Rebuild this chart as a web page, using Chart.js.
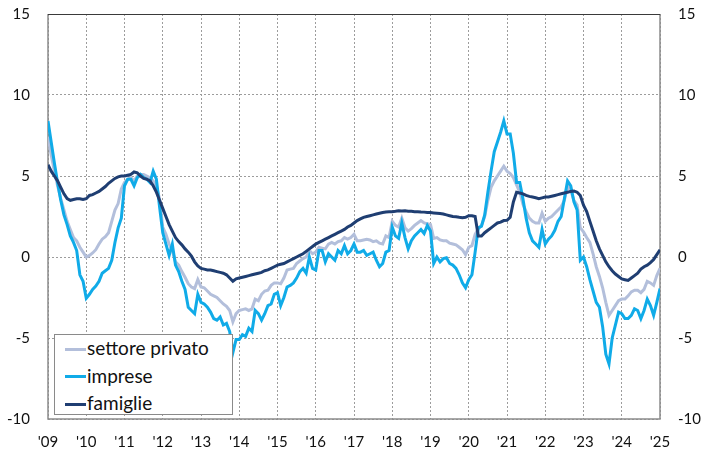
<!DOCTYPE html>
<html>
<head>
<meta charset="utf-8">
<script src="https://cdn.jsdelivr.net/npm/chart.js@4.4.1/dist/chart.umd.min.js"></script>
<style>
  html, body { margin: 0; padding: 0; background: #fff; }
  #wrap { position: relative; width: 705px; height: 454px; }
  #legend { position: absolute; left: 54px; top: 334px; width: 179px; height: 81px;
            border: 1px solid #8a8a8a; background: #fff; font-family: Lato, "Open Sans", sans-serif;
            font-size: 19px; color: #111; box-sizing: border-box; }
  .item { position: absolute; left: 10px; height: 22px; line-height: 22px; white-space: nowrap; }
  .swatch { display: inline-block; width: 21px; height: 3px; vertical-align: middle; margin-right: 1px; position: relative; top: -1px; }
</style>
</head>
<body>
<div id="wrap">
  <canvas id="c" width="705" height="454"></canvas>
  <div id="legend"></div>
</div>
<script>
// ---- Data (monthly, Jan 2009 .. Jan 2025) ----
const yearLabels = ["'09","'10","'11","'12","'13","'14","'15","'16","'17","'18","'19","'20","'21","'22","'23","'24","'25"];

const seriesNames = ["settore privato", "imprese", "famiglie"];
const seriesColors = ["#b3bfdb", "#10abe8", "#1f3e72"];

const settorePrivato = [
  7.4, 6.3, 5.3, 4.4, 3.6, 2.9, 2.2, 1.7, 1.2, 1.0, 0.6, 0.3,
  0.0, 0.1, 0.25, 0.45, 0.8, 1.1, 1.25, 1.5, 2.2, 2.9, 3.3, 4.2,
  4.6, 4.8, 4.9, 4.7, 5.0, 5.1, 5.1, 5.0, 4.9, 4.7, 4.4, 3.6,
  1.85, 1.4, 0.8, 0.4, -0.3, -0.5, -0.9, -1.25, -1.65, -1.85, -1.95, -1.4,
  -1.85, -1.9, -2.1, -2.3, -2.4, -2.5, -2.7, -2.9, -3.05, -3.3, -4.0, -3.5,
  -3.3, -3.25, -3.2, -3.3, -3.2, -2.6, -2.7, -2.3, -2.1, -2.05, -1.75, -1.6,
  -1.6, -1.65, -1.3, -0.8, -0.75, -0.7, -0.4, -0.25, -0.1, 0.0, 0.4, 0.2,
  0.3, 0.6, 0.55, 0.5, 0.8, 0.9, 0.8, 0.95, 1.0, 1.2, 1.1, 1.2,
  1.4, 1.0, 1.0, 1.05, 1.1, 1.05, 0.95, 1.0, 0.85, 0.8, 1.3, 1.2,
  2.2, 1.95, 1.85, 2.4, 1.8, 1.6, 1.75, 1.95, 2.1, 2.25, 2.1, 2.05,
  2.0, 1.15, 1.2, 1.05, 1.0, 1.0, 0.85, 0.8, 0.75, 0.6, 0.45, 0.15,
  0.6, 0.7, 1.4, 1.75, 1.95, 2.5, 3.5, 4.3, 4.7, 5.0, 5.3, 5.6,
  5.3, 5.15, 4.9, 4.45, 4.0, 3.25, 2.8, 2.4, 2.2, 2.1, 2.1, 2.7,
  2.2, 2.4, 2.5, 2.7, 2.9, 3.1, 3.5, 4.4, 4.1, 3.5, 3.2, 1.8,
  1.55, 1.2, 0.9, 0.2, -0.6, -1.2, -1.9, -2.8, -3.6, -3.3, -3.0, -2.7,
  -2.6, -2.6, -2.4, -2.15, -2.05, -2.05, -2.2, -2.0, -1.5, -1.6, -1.75, -1.15,
  -0.7
];

const imprese = [
  8.4, 7.1, 5.8, 4.6, 3.5, 2.6, 2.0, 1.3, 0.9, 0.4, -1.1, -1.5,
  -2.55, -2.3, -2.0, -1.8, -1.5, -1.0, -0.85, -0.7, -0.2, 0.9, 1.8, 2.4,
  4.4, 4.8, 4.8, 4.4, 4.9, 5.1, 4.9, 4.8, 4.6, 5.3, 4.8, 3.1,
  1.5, 0.8, 0.1, 0.8, -0.5, -0.9, -1.5, -2.0, -3.1, -3.3, -3.5, -2.3,
  -2.8, -2.9, -3.1, -3.4, -3.8, -3.9, -3.7, -4.2, -4.1, -4.6, -5.9, -5.1,
  -5.1, -4.8, -4.9, -4.4, -4.6, -3.3, -3.5, -3.9, -3.5, -3.0, -2.9, -2.3,
  -2.2, -3.0, -2.5, -1.85, -1.75, -1.6, -1.3, -0.9, -0.7, -1.0, 0.0, -0.7,
  -0.8, 0.4, 0.4, -0.3, 0.2, 0.0, -0.2, 0.4, 0.2, 0.7, 0.2, 0.4,
  0.8, 0.3, 0.3, 0.4, 0.1, 0.2, 0.3, -0.2, -0.6, -0.4, 0.3, 0.4,
  1.85, 1.3, 1.15, 2.1, 1.2, 0.5, 1.0, 1.3, 1.5, 1.7, 1.45, 1.95,
  1.6, -0.4, 0.0, -0.3, -0.1, -0.05, -0.4, -0.5, -0.7, -1.1, -1.6, -1.9,
  -1.4, -1.1, 0.3, 1.8, 1.9, 2.6, 4.0, 5.3, 6.5, 7.1, 7.7, 8.4,
  7.6, 7.6, 6.4, 4.6, 4.6, 3.6, 2.4, 1.5, 1.0, 0.8, 0.6, 1.7,
  0.8, 1.1, 1.3, 1.65, 2.2, 2.5, 3.6, 4.7, 4.4, 3.4, 2.9, -0.2,
  0.0, -0.6, -1.4, -2.1, -2.8, -3.1, -4.3, -6.0, -6.6, -5.0, -4.2, -3.4,
  -3.5, -3.8, -3.8, -3.6, -3.2, -3.3, -3.8, -3.3, -2.6, -3.0, -3.6, -2.8,
  -1.95
];

const famiglie = [
  5.7, 5.3, 5.0, 4.7, 4.3, 3.9, 3.6, 3.5, 3.55, 3.6, 3.6, 3.55,
  3.6, 3.8, 3.85, 3.95, 4.05, 4.2, 4.35, 4.55, 4.7, 4.85, 4.95, 5.0,
  5.0, 5.05, 5.1, 5.25, 5.2, 5.0, 4.85, 4.8, 4.7, 4.4, 4.0, 3.5,
  3.0, 2.5, 2.0, 1.6, 1.2, 0.95, 0.75, 0.5, 0.3, 0.05, -0.3, -0.55,
  -0.7, -0.75, -0.8, -0.8, -0.85, -0.9, -0.95, -1.0, -1.1, -1.3, -1.5, -1.35,
  -1.3, -1.25, -1.2, -1.15, -1.1, -1.05, -1.0, -0.95, -0.85, -0.8, -0.7, -0.6,
  -0.5, -0.45, -0.4, -0.3, -0.2, -0.1, 0.0, 0.1, 0.2, 0.35, 0.5, 0.65,
  0.8, 0.9, 1.0, 1.1, 1.2, 1.3, 1.4, 1.5, 1.6, 1.7, 1.85, 1.95,
  2.1, 2.25, 2.35, 2.45, 2.5, 2.55, 2.6, 2.65, 2.7, 2.75, 2.78, 2.8,
  2.8, 2.82, 2.85, 2.84, 2.85, 2.83, 2.82, 2.8, 2.8, 2.78, 2.77, 2.75,
  2.74, 2.72, 2.7, 2.68, 2.65, 2.6, 2.55, 2.5, 2.48, 2.45, 2.43, 2.45,
  2.55, 2.55, 2.5, 1.3, 1.3, 1.5, 1.65, 1.8, 1.95, 2.1, 2.15, 2.25,
  2.26, 2.45, 3.4, 4.0, 3.95, 3.9, 3.8, 3.74, 3.7, 3.66, 3.6, 3.65,
  3.7, 3.7, 3.75, 3.8, 3.85, 3.9, 3.95, 4.0, 4.05, 4.07, 4.0, 3.8,
  3.2, 2.8, 2.2, 1.6, 1.0, 0.5, 0.1, -0.3, -0.6, -0.85, -1.05, -1.2,
  -1.35, -1.4, -1.45, -1.3, -1.15, -1.0, -0.75, -0.6, -0.5, -0.35, -0.15, 0.15,
  0.45
];

const yTicks = [-10, -5, 0, 5, 10, 15];

// ---- Build datasets ----
const allSeries = [settorePrivato, imprese, famiglie];
const toPoints = arr => arr.map((v, i) => ({ x: i, y: v }));
const datasets = allSeries.map((arr, k) => ({
  label: seriesNames[k],
  data: toPoints(arr),
  borderColor: seriesColors[k],
  backgroundColor: seriesColors[k],
  borderWidth: 3,
  pointRadius: 0,
  tension: 0,
  fill: false,
  order: 2 - k
}));

// ---- Legend (HTML) ----
const legend = document.getElementById('legend');
seriesNames.forEach((name, k) => {
  const d = document.createElement('div');
  d.className = 'item';
  d.style.top = (2 + k * 27.5) + 'px';
  d.innerHTML = '<span class="swatch" style="background:' + seriesColors[k] + '"></span>' + name;
  legend.appendChild(d);
});

const FONT = { family: 'Lato, "Open Sans", sans-serif', size: 15 };

const framePlugin = {
  id: 'frame',
  beforeDatasetsDraw(chart) {
    const a = chart.chartArea, ctx = chart.ctx;
    ctx.save();
    ctx.strokeStyle = '#8c8c8c';
    ctx.lineWidth = 1.5;
    ctx.beginPath();
    ctx.moveTo(a.left, a.top); ctx.lineTo(a.left, a.bottom);
    ctx.lineTo(a.right, a.bottom); ctx.lineTo(a.right, a.top);
    ctx.stroke();
    ctx.strokeStyle = '#3a3a3a';
    ctx.lineWidth = 1;
    ctx.beginPath();
    ctx.moveTo(a.left, a.top + 0.5); ctx.lineTo(a.right, a.top + 0.5);
    ctx.stroke();
    ctx.restore();
  }
};

const fixV = w => s => { s.width = w; s.paddingTop = 0; s.paddingBottom = 0; };

new Chart(document.getElementById('c'), {
  type: 'line',
  data: { datasets },
  plugins: [framePlugin],
  options: {
    responsive: false,
    animation: false,
    devicePixelRatio: 1,
    layout: { padding: { top: 14, left: 0, right: 0, bottom: 0 } },
    plugins: { legend: { display: false }, tooltip: { enabled: false } },
    scales: {
      x: {
        type: 'linear',
        min: 0,
        max: (yearLabels.length - 1) * 12,
        afterBuildTicks: s => { s.ticks = yearLabels.map((_, i) => ({ value: i * 12 })); },
        ticks: {
          autoSkip: false, maxRotation: 0, padding: 14, color: '#111', font: FONT,
          callback: v => yearLabels[Math.round(v / 12)]
        },
        grid: { color: '#9c9c9c', lineWidth: 1, drawTicks: false },
        border: { display: false, dash: [2, 2] },
        afterFit: s => { s.height = 35; s.paddingLeft = 0; s.paddingRight = 0; }
      },
      y: {
        position: 'left',
        min: -10, max: 15,
        afterBuildTicks: s => { s.ticks = yTicks.map(v => ({ value: v })); },
        ticks: { padding: 18, color: '#111', font: FONT },
        grid: { color: '#9c9c9c', lineWidth: 1, drawTicks: false },
        border: { display: false, dash: [2, 2] },
        afterFit: fixV(48)
      },
      y2: {
        position: 'right',
        min: -10, max: 15,
        afterBuildTicks: s => { s.ticks = yTicks.map(v => ({ value: v })); },
        ticks: { padding: 18, color: '#111', font: FONT },
        grid: { display: false, drawTicks: false },
        border: { display: false },
        afterFit: fixV(45)
      }
    }
  }
});
</script>
</body>
</html>
